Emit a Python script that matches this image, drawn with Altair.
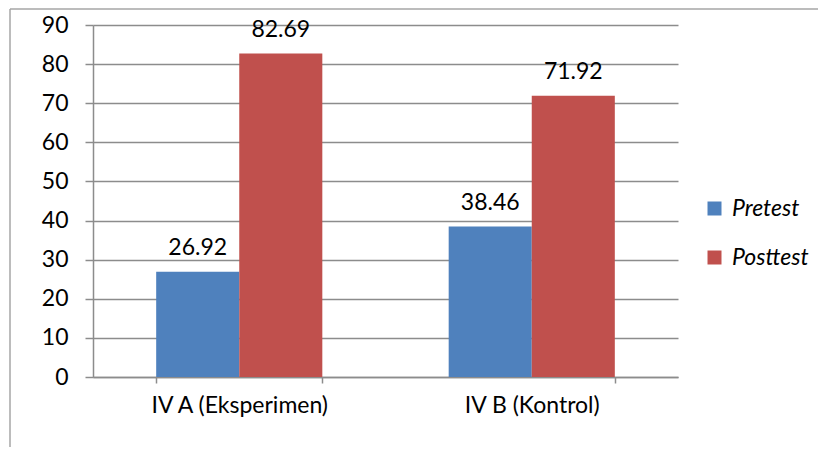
import altair as alt
import pandas as pd

groups = ["IV A (Eksperimen)", "IV B (Kontrol)"]
series = ["Pretest", "Posttest"]
pretest = [26.92, 38.46]
posttest = [82.69, 71.92]
colors = ["#4F81BD", "#C0504D"]

rows = []
for i, g in enumerate(groups):
    rows.append({"group": g, "series": "Pretest", "value": pretest[i], "label": f"{pretest[i]:.2f}"})
    rows.append({"group": g, "series": "Posttest", "value": posttest[i], "label": f"{posttest[i]:.2f}"})
df = pd.DataFrame(rows)

FONT = "Lato"
FS = 23
GRID = "#8C8C8C"

x = alt.X("group:N", sort=groups, title=None,
          scale=alt.Scale(paddingInner=0.432, paddingOuter=0.216),
          axis=alt.Axis(labelAngle=0, tickBand="extent", domainColor=GRID, tickColor=GRID,
                        domainWidth=1.5, tickWidth=1.5, tickSize=6, labelPadding=11,
                        labelFontSize=FS, labelFont=FONT, labelColor="#000000"))
xo = alt.XOffset("series:N", sort=series, scale=alt.Scale(paddingInner=0, paddingOuter=0))
y = alt.Y("value:Q", title=None,
          scale=alt.Scale(domain=[0, 90], nice=False),
          axis=alt.Axis(values=list(range(0, 91, 10)), gridColor=GRID, gridWidth=1.5,
                        domainColor=GRID, tickColor=GRID, domainWidth=1.5, tickWidth=1.5,
                        tickSize=8, labelPadding=17, labelFontSize=FS, labelFont=FONT,
                        labelColor="#000000", labelOverlap=False, labelBound=False,
                        labelFlush=False))

color = alt.Color("series:N", sort=series,
                  scale=alt.Scale(domain=series, range=colors),
                  legend=alt.Legend(title=None, orient="none", legendX=610, legendY=172,
                                    symbolType="square", symbolSize=196, symbolStrokeWidth=0,
                                    labelFont=FONT, labelFontSize=FS, labelFontStyle="italic",
                                    labelColor="#000000", rowPadding=25, labelOffset=6))

bars = alt.Chart(df).mark_bar().encode(x=x, xOffset=xo, y=y, color=color)
labels = alt.Chart(df).mark_text(baseline="alphabetic", dy=-17, fontSize=FS, font=FONT, color="#000000").encode(
    x=x, xOffset=xo, y=y, text="label:N")

border_df = pd.DataFrame({"k": [0]})
left_border = alt.Chart(border_df).mark_rule(color="#A6A6A6", strokeWidth=1.5).encode(
    x=alt.value(-83), y=alt.value(-16), y2=alt.value(500))
top_border = alt.Chart(border_df).mark_rule(color="#A6A6A6", strokeWidth=1.5).encode(
    x=alt.value(-83), x2=alt.value(800), y=alt.value(-16))

chart = alt.layer(bars, labels, left_border, top_border).properties(
    width=585, height=352,
    autosize=alt.AutoSizeParams(type="none"),
    padding={"left": 85, "top": 17, "right": 140, "bottom": 70},
).configure_view(stroke=None).configure_axis(grid=False).configure_axisY(grid=True)

chart.save("out.html", embed_options={"renderer": "svg", "actions": False})
